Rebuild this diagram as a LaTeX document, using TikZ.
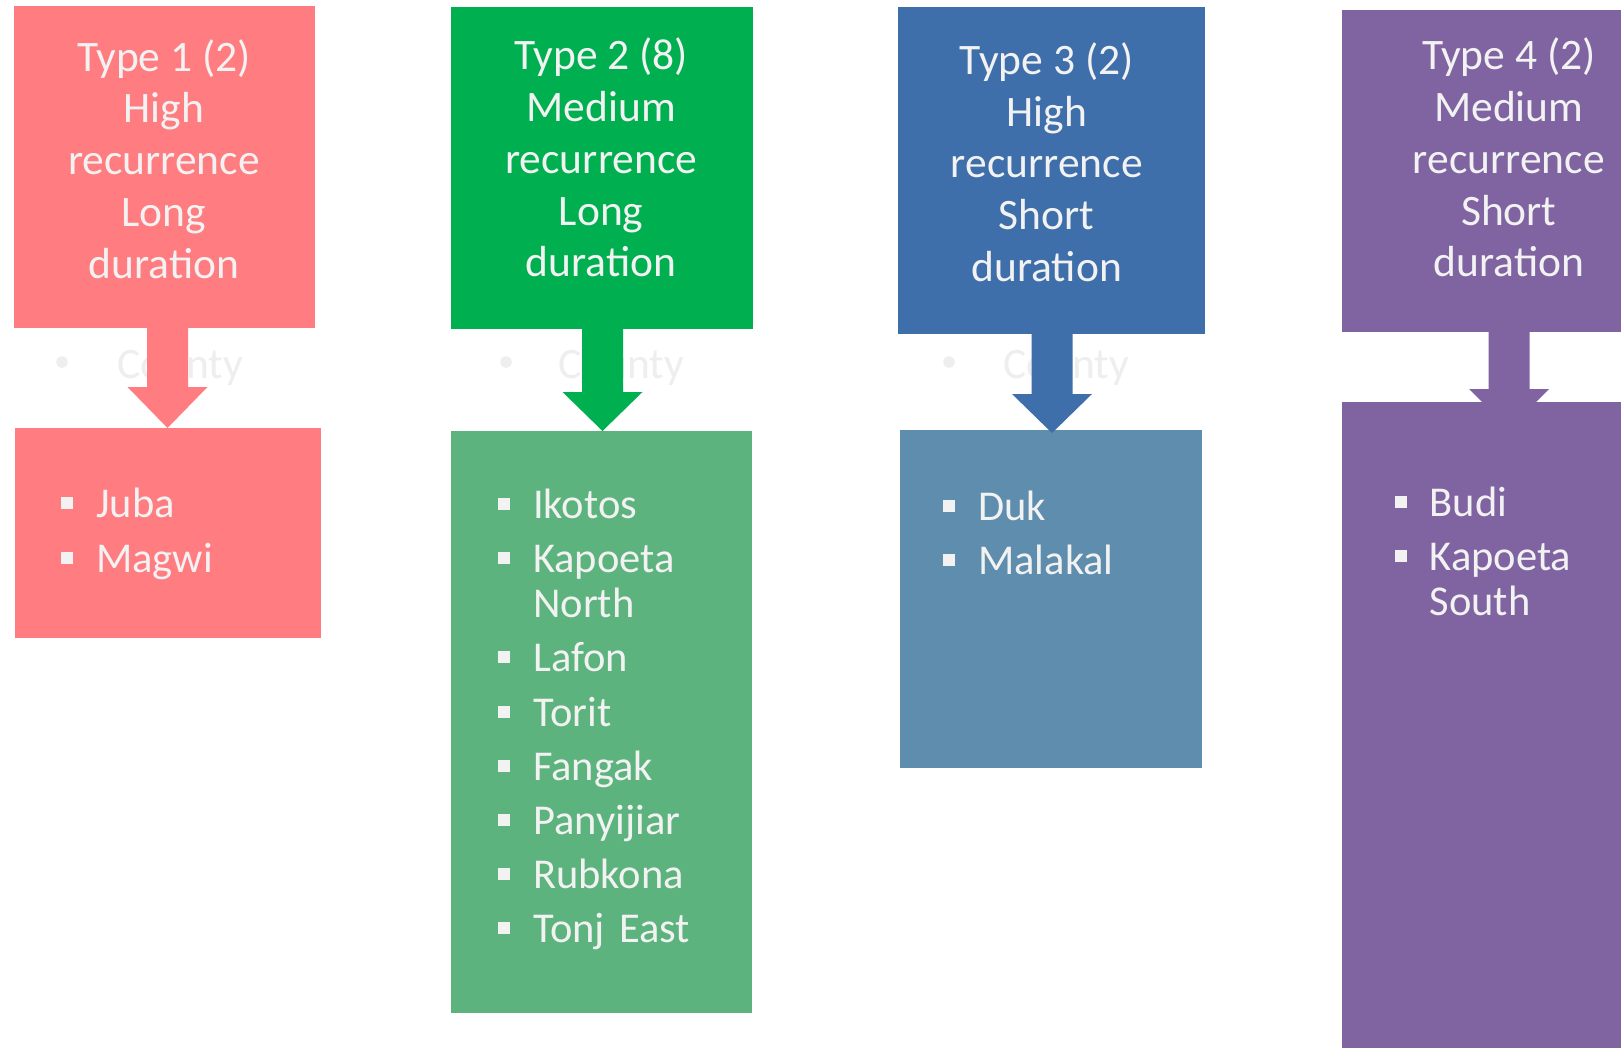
\documentclass[tikz,border=0pt]{standalone}
\usepackage{fontspec}
\setmainfont{Carlito}
\usetikzlibrary{calc}
\definecolor{pinkc}{HTML}{FF7C80}
\definecolor{greentop}{HTML}{00B050}
\definecolor{greenlow}{HTML}{5DB37E}
\definecolor{bluetop}{HTML}{3F6FAA}
\definecolor{bluelow}{HTML}{5F8DAD}
\definecolor{purplec}{HTML}{8064A2}
\definecolor{txt}{HTML}{F2F2F2}
\definecolor{faint}{HTML}{EEEEEE}
\tikzset{
  box/.style={draw=none, inner sep=0pt, outer sep=0pt, anchor=north west},
  headtxt/.style={text=txt, align=center, inner sep=0pt, font=\fontsize{43.5}{51.8}\selectfont},
  listtxt/.style={text=txt, text width=300pt, inner sep=0pt, anchor=north west, align=left, font=\fontsize{42.5}{45.5}\selectfont},
  fainttxt/.style={text=faint, inner sep=0pt, anchor=base west, font=\fontsize{43.5}{50}\selectfont},
  faintdot/.style={circle, fill=faint, minimum size=11.5pt, inner sep=0pt},
}
\newcommand\bul{\llap{\rule[8.5pt]{12pt}{12pt}\hspace{23pt}}}
\newcommand\itm{\par\noindent\bul}
\newcommand\firstitm{\setlength\parskip{8.6pt}\setlength\parindent{0pt}\noindent\bul\rule{0pt}{33pt}}
% #1 colour, #2 from node, #3 to node, #4 x offset, #5 tip below target north, #6 head length
\newcommand\fatarrow[6]{%
  \fill[#1] let \p1=(#2.south), \p2=(#3.north) in
    ({\x1+(#4)*1pt-20.5pt},\y1) -- ({\x1+(#4)*1pt+20.5pt},\y1)
    -- ({\x1+(#4)*1pt+20.5pt},{\y2-(#5)*1pt+(#6)*1pt})
    -- ({\x1+(#4)*1pt+40pt},{\y2-(#5)*1pt+(#6)*1pt})
    -- ({\x1+(#4)*1pt},{\y2-(#5)*1pt})
    -- ({\x1+(#4)*1pt-40pt},{\y2-(#5)*1pt+(#6)*1pt})
    -- ({\x1+(#4)*1pt-20.5pt},{\y2-(#5)*1pt+(#6)*1pt}) -- cycle;}
\begin{document}
\begin{tikzpicture}[x=1pt,y=-1pt]
\useasboundingbox (0,0) rectangle (1621,1047);
\clip (0,0) rectangle (1621,1047);
\fill[white] (0,0) rectangle (1621,1047);

% faint background text
\node[faintdot] (fd1) at (62,362) {};
\node[fainttxt] (f1) at (117,378) {County};
\node[faintdot] (fd2) at (506,362) {};
\node[fainttxt] (f2) at (558,378) {County};
\node[faintdot] (fd3) at (949,362) {};
\node[fainttxt] (f3) at (1003,378) {County};

% top boxes
\node[box, fill=pinkc, minimum width=301pt, minimum height=322pt] (t1) at (14,6) {};
\node[box, fill=greentop, minimum width=302pt, minimum height=322pt] (t2) at (451,7) {};
\node[box, fill=bluetop, minimum width=307pt, minimum height=327pt] (t3) at (898,7) {};
\node[box, fill=purplec, minimum width=334pt, minimum height=322pt] (t4) at (1342,10) {};

% lower boxes
\node[box, fill=pinkc, minimum width=306pt, minimum height=210pt] (b1) at (15,428) {};
\node[box, fill=greenlow, minimum width=301pt, minimum height=582pt] (b2) at (451,431) {};
\node[box, fill=bluelow, minimum width=302pt, minimum height=338pt] (b3) at (900,430) {};
\node[box, fill=purplec, minimum width=334pt, minimum height=700pt] (b4) at (1342,402) {};

% arrows
\fatarrow{pinkc}{t1}{b1}{3}{0}{41}
\fatarrow{greentop}{t2}{b2}{0.5}{0}{39}
\fatarrow{bluetop}{t3}{b3}{0.5}{3}{39}
\fatarrow{purplec}{t4}{b4}{0}{27}{40}

% headings
\node[headtxt] (h1) at (163.9,159) {Type 1 (2)\\High\\recurrence\\Long\\duration};
\node[headtxt] (h2) at (601.2,157.5) {Type 2 (8)\\Medium\\recurrence\\Long\\duration};
\node[headtxt] (h3) at (1046.7,162.2) {Type 3 (2)\\High\\recurrence\\Short\\duration};
\node[headtxt] (h4) at (1508.8,157.5) {Type 4 (2)\\Medium\\recurrence\\Short\\duration};

% lists
\node[listtxt] (l1) at (96,484.7) {\firstitm Juba\itm Magwi};
\node[listtxt] (l2) at (533,485) {\firstitm Ikotos\itm Kapoeta\\North\itm Lafon\itm Torit\itm Fangak\itm Panyijiar\itm Rubkona\itm Tonj East};
\node[listtxt] (l3) at (978,487) {\firstitm Duk\itm Malakal};
\node[listtxt] (l4) at (1429.5,483) {\firstitm Budi\itm Kapoeta\\South};
\end{tikzpicture}
\end{document}
